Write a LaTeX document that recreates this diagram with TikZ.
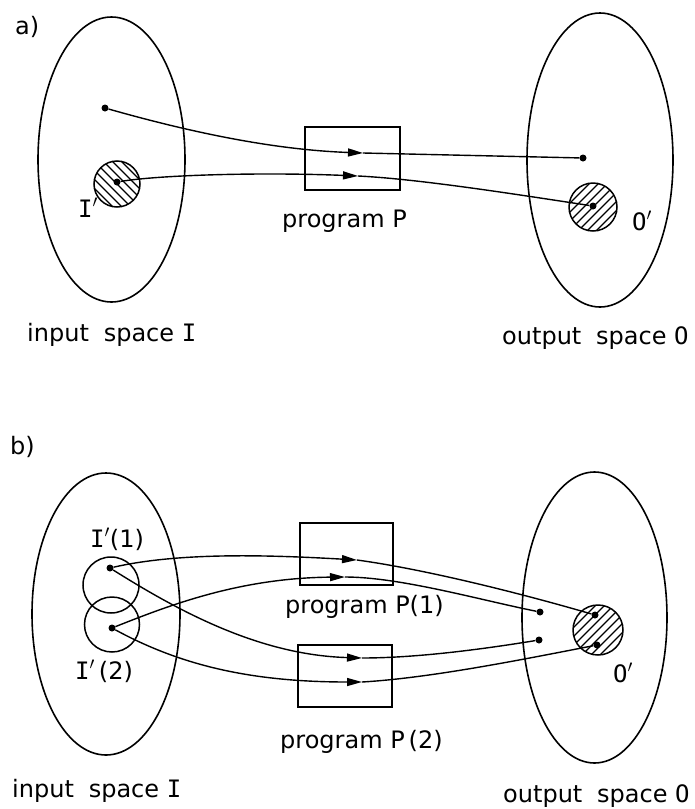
\documentclass[tikz,border=0pt]{standalone}
\usepackage{fontspec}
\setmainfont{DejaVu Sans}
\newfontfamily\monofont{DejaVu Sans Mono}
\usetikzlibrary{arrows.meta,shapes.geometric}
\newcommand\capI{{\monofont I}}
\newcommand\capO{{\monofont O}}
\tikzset{
  conn/.style={line width=1.4pt},
  arr/.style={conn,-{Triangle[length=15pt,width=8pt]}},
  dot/.style={circle,fill=black,inner sep=0pt,minimum size=7pt},
  spacebox/.style={ellipse,draw,line width=1.6pt,inner sep=0pt},
  ring/.style={circle,draw,line width=1.5pt,inner sep=0pt},
  progbox/.style={draw,line width=1.5pt,inner sep=0pt},
  lbl/.style={inner sep=0pt,anchor=base west,font=\fontsize{24}{28}\selectfont},
  hatchline/.style={line width=1.3pt}
}
\newcommand\hatchcircle[4]{%
  \begin{scope}
    \clip (#1,#2) circle (#3pt);
    \foreach \k in {-7,...,7}
      \draw[hatchline] (#1+\k*9-40,#2-40*#4) -- ++(80,80*#4);
  \end{scope}}
\begin{document}
\begin{tikzpicture}[x=1pt,y=-1pt]
\useasboundingbox (0,0) rectangle (694,809);

% ---------------- panel a ----------------
\node[lbl] (la) at (15,34) {a)};
\node[spacebox,minimum width=147pt,minimum height=285pt] (aIn) at (111.5,159.5) {};
\node[spacebox,minimum width=146pt,minimum height=294pt] (aOut) at (600,160) {};
\node[progbox,minimum width=95pt,minimum height=63pt] (aP) at (352.5,158.5) {};

\hatchcircle{117}{184}{23}{1}
\node[ring,minimum size=46pt] (aIs) at (117,184) {};
\hatchcircle{593}{207}{24}{-1}
\node[ring,minimum size=48pt] (aOs) at (593,207) {};

\node[dot] (a1) at (105,108) {};
\node[dot] (a2) at (117,182) {};
\node[dot] (a3) at (583,158) {};
\node[dot] (a4) at (593,206) {};
\coordinate (ma1) at (363,153);
\coordinate (ma2) at (358,176);

\draw[arr] (a1) .. controls (200,135) and (280,150) .. (ma1);
\draw[conn] (ma1) -- (a3);
\draw[arr] (a2) .. controls (160,175) and (260,172) .. (ma2);
\draw[conn] (ma2) .. controls (420,179) and (520,195) .. (a4);

\node[lbl] (tIa) at (78,217) {\capI$'$};
\node[lbl] (tOa) at (632,230) {\capO$'$};
\node[lbl] (tPa) at (282,227) {program P};
\node[lbl] (tina) at (27,341) {input\hspace{0.3em} space \capI};
\node[lbl] (touta) at (502,344) {output\hspace{0.3em} space \capO};

% ---------------- panel b ----------------
\node[lbl] (lb) at (10,454) {b)};
\node[spacebox,minimum width=148pt,minimum height=282pt] (bIn) at (106,614) {};
\node[spacebox,minimum width=145pt,minimum height=291pt] (bOut) at (594.5,617.5) {};
\node[progbox,minimum width=93pt,minimum height=62pt] (bP1) at (346.5,554) {};
\node[progbox,minimum width=94pt,minimum height=62pt] (bP2) at (345,676) {};

\node[ring,minimum size=56pt] (bI1) at (111,585) {};
\node[ring,minimum size=55pt] (bI2) at (112,624.5) {};
\hatchcircle{598}{630}{25}{-1}
\node[ring,minimum size=50pt] (bOs) at (598,630) {};

\node[dot] (b1) at (110,568) {};
\node[dot] (b2) at (112,628) {};
\node[dot] (b3) at (540,612) {};
\node[dot] (b4) at (539,640) {};
\node[dot] (b5) at (595,615) {};
\node[dot] (b6) at (597,645) {};
\coordinate (mb1) at (357,560);
\coordinate (mb2) at (345,577);
\coordinate (mb3) at (362,658);
\coordinate (mb4) at (362,682);

\draw[arr] (b1) .. controls (180,552) and (270,555) .. (mb1);
\draw[conn] (mb1) .. controls (430,570) and (530,596) .. (b5);
\draw[arr] (b2) .. controls (170,605) and (240,578) .. (mb2);
\draw[conn] (mb2) .. controls (400,577) and (480,600) .. (b3);
\draw[arr] (b1) .. controls (180,612) and (260,655) .. (mb3);
\draw[conn] (mb3) .. controls (420,658) and (490,648) .. (b4);
\draw[arr] (b2) .. controls (180,665) and (250,682) .. (mb4);
\draw[conn] (mb4) .. controls (430,678) and (520,660) .. (b6);

\node[lbl] (tI1) at (90,547) {\capI$'$(1)};
\node[lbl] (tI2) at (75,679) {\capI$'$\,(2)};
\node[lbl] (tOb) at (613,682) {\capO$'$};
\node[lbl] (tP1) at (285,613) {program P(1)};
\node[lbl] (tP2) at (280,748) {program P\,(2)};
\node[lbl] (tinb) at (12,797) {input\hspace{0.3em} space \capI};
\node[lbl] (toutb) at (503,802) {output\hspace{0.3em} space \capO};
\end{tikzpicture}
\end{document}
